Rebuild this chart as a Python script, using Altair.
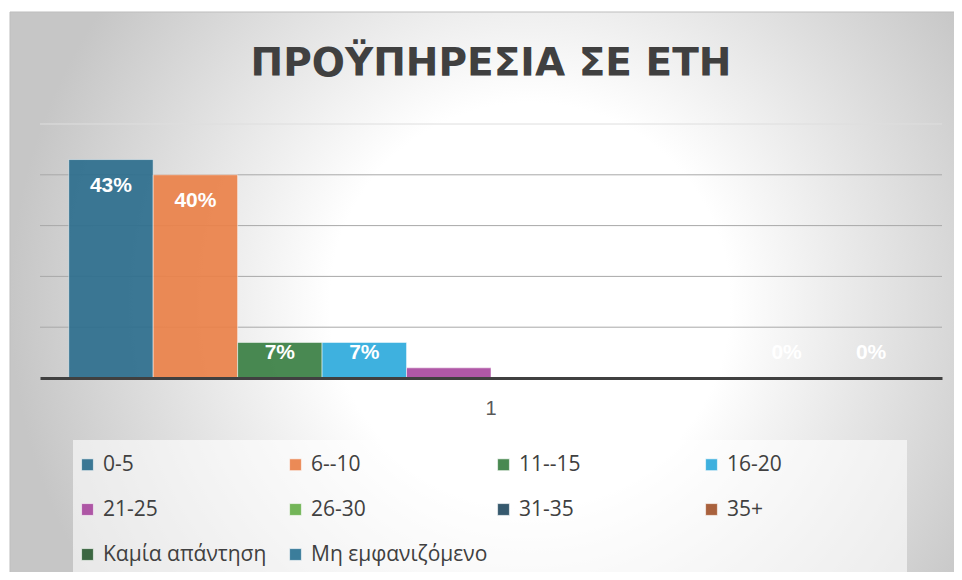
import altair as alt
import pandas as pd

# ---- data ----
series = ["0-5", "6--10", "11--15", "16-20", "21-25", "26-30", "31-35", "35+",
          "Καμία απάντηση", "Μη εμφανιζόμενο"]
values = [0.43, 0.40, 0.07, 0.07, 0.02, 0.0, 0.0, 0.0, 0.0, 0.0]
colors = ["#2c6e8d", "#ea8149", "#3a7f43", "#2eaadc", "#a94aa0", "#68b04b",
          "#264c62", "#a3552e", "#2d5b33", "#2c7394"]
category = "1"
grid_values = [0.1, 0.2, 0.3, 0.4, 0.5]
title_text = "ΠΡΟΫΠΗΡΕΣΙΑ ΣΕ ΕΤΗ"

W, H = 902, 254

df = pd.DataFrame({"cat": [category] * len(series), "series": series, "value": values})
yscale = alt.Scale(domain=[0, 0.5])
one = pd.DataFrame({"k": [0]})

bg = alt.Chart(one).mark_rect(
    fill=alt.RadialGradient(
        gradient="radial",
        stops=[alt.GradientStop(offset=0, color="#ffffff"),
               alt.GradientStop(offset=0.385, color="#ffffff"),
               alt.GradientStop(offset=1, color="#c6c6c6")],
        x1=0.5, y1=0.5, r1=0, x2=0.5, y2=0.5, r2=0.5),
    stroke="#bdbdbd", strokeWidth=1,
).encode(x=alt.value(-30), x2=alt.value(1010), y=alt.value(-112), y2=alt.value(470))

legend_box = alt.Chart(one).mark_rect(fill="#ffffff", fillOpacity=0.6).encode(
    x=alt.value(33), x2=alt.value(867), y=alt.value(316), y2=alt.value(449))

grid = alt.Chart(pd.DataFrame({"g": grid_values})).mark_rule(strokeWidth=1).encode(
    y=alt.Y("g:Q", scale=yscale, axis=None),
    x=alt.value(0), x2=alt.value(W),
    color=alt.condition(alt.datum.g >= 0.5, alt.value("#dedede"), alt.value("#a8a8a8")),
)

xenc = alt.X("cat:N", scale=alt.Scale(paddingOuter=0.034, paddingInner=0),
             axis=alt.Axis(title=None, labelAngle=0, ticks=False, grid=False,
                           domainColor="#404040", domainWidth=3,
                           labelColor="#595959", labelFontSize=20,
                           labelFont="Liberation Sans", labelPadding=20, zindex=1))
xoff = alt.XOffset("series:N", sort=series, scale=alt.Scale(paddingInner=0, paddingOuter=0))

bars = alt.Chart(df).mark_bar(fillOpacity=0.92, stroke="#ffffff", strokeWidth=1,
                              strokeOpacity=0.5).encode(
    x=xenc,
    xOffset=xoff,
    y=alt.Y("value:Q", scale=yscale, axis=None),
    color=alt.Color("series:N", sort=series,
                    scale=alt.Scale(domain=series, range=colors),
                    legend=alt.Legend(title=None, orient="none", legendX=25, legendY=318,
                                      direction="horizontal", columns=4, gridAlign="all",
                                      symbolType="square", symbolSize=140,
                                      symbolStrokeWidth=1,
                                      symbolStrokeColor="rgba(255,255,255,0.6)",
                                      symbolOpacity=0.92,
                                      labelFont="Open Sans", labelFontSize=21,
                                      labelColor="#404040", labelOffset=5,
                                      labelLimit=400, rowPadding=23, columnPadding=5,
                                      padding=12)),
)

labels = alt.Chart(df).transform_calculate(
    ylab="max(datum.value, 0.1)"
).mark_text(dy=26, color="white", fontWeight="bold", fontSize=21,
            font="Liberation Sans", baseline="middle", align="center").encode(
    x=alt.X("cat:N"),
    xOffset=alt.XOffset("series:N", sort=series),
    y=alt.Y("ylab:Q", scale=yscale, axis=None),
    text=alt.Text("value:Q", format=".0%"),
)

title = alt.Chart(pd.DataFrame({"t": [title_text]})).mark_text(
    font="DejaVu Sans", fontWeight="bold", fontSize=39, color="#404040",
    baseline="alphabetic", align="center",
).encode(x=alt.value(W / 2), y=alt.value(-48), text="t:N")

chart = alt.layer(bg, legend_box, grid, bars, labels, title).properties(
    width=W, height=H,
    padding={"left": 32, "top": 116, "right": 12, "bottom": 194},
    autosize=alt.AutoSizeParams(type="none"),
    background="#ffffff",
).configure_view(stroke=None)

chart.save("out.html", embed_options={"renderer": "svg", "actions": False})
